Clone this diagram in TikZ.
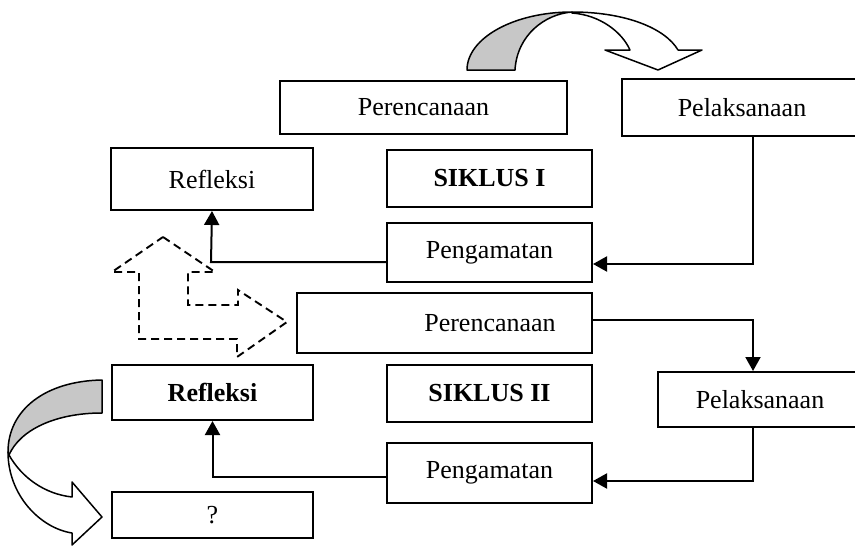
\documentclass[tikz,border=0pt]{standalone}
\usepackage{fontspec}
\setmainfont{Liberation Serif}
\usetikzlibrary{arrows.meta,calc}
\tikzset{
  boxnode/.style={draw, line width=2pt, inner sep=0pt, font=\fontsize{26}{30}\selectfont},
  txt/.style={inner sep=0pt, font=\fontsize{26}{30}\selectfont},
  arr/.style={line width=2pt, -{Triangle[length=14pt,width=15pt]}},
  dashshape/.style={line width=1.9pt, dash pattern=on 8pt off 5pt},
  bandline/.style={line width=1.5pt, line join=round}
}
\begin{document}
\begin{tikzpicture}[x=1pt,y=-1pt]
\useasboundingbox (0,0) rectangle (855,546);
\clip (0,0) rectangle (855,546);
% boxes
\node[boxnode, minimum width=287, minimum height=53] (pren1) at (423.5,107.5) {Perencanaan};
\node[boxnode, minimum width=240, minimum height=57] (pel1) at (742,107.5) {Pelaksanaan};
\node[boxnode, minimum width=202, minimum height=62] (refl1) at (212,179) {Refleksi};
\node[boxnode, minimum width=205, minimum height=57] (sik1) at (489.5,178.5) {\bfseries SIKLUS I};
\node[boxnode, minimum width=205, minimum height=59] (peng1) at (489.5,252.5) {Pengamatan};
\node[boxnode, minimum width=295, minimum height=60] (pren2) at (444.5,323) {};
\node[txt] (pren2t) at (490,323) {Perencanaan};
\node[boxnode, minimum width=204, minimum height=55] (pel2) at (760,399.5) {Pelaksanaan};
\node[boxnode, minimum width=205, minimum height=57] (sik2) at (489.5,393.5) {\bfseries SIKLUS II};
\node[boxnode, minimum width=205, minimum height=60] (peng2) at (489.5,473) {Pengamatan};
\node[boxnode, minimum width=201, minimum height=55] (refl2) at (212.5,392.5) {\bfseries Refleksi};
\node[boxnode, minimum width=201, minimum height=46] (q) at (212.5,515) {?};
% connectors
\coordinate (a1) at (753,264);
\draw[arr] (pel1.south -| a1) |- (peng1.east |- a1);
\coordinate (a2) at (211,262);
\draw[arr] (peng1.west |- a2) -- (a2) -- (refl1.south);
\coordinate (a3) at (753,320);
\draw[arr] (pren2.east |- a3) -| (pel2.north -| a3);
\coordinate (a4) at (753,481);
\draw[arr] (pel2.south -| a4) |- (peng2.east |- a4);
\coordinate (a5) at (212,477);
\draw[arr] (peng2.west |- a5) -| (refl2.south);
% dashed bent arrow
\draw[dashshape] (163,237) -- (215,272) -- (188,272) -- (188,305) -- (238,305) -- (238,290)
  -- (287,322) -- (237,357) -- (237,339) -- (139,339) -- (139,272) -- (112,272) -- cycle;
% top curved arrow
\filldraw[bandline, fill=black!22] (467,70) .. controls (467,38) and (514,12) .. (572,12)
  .. controls (545,14) and (517,35) .. (515,70) -- cycle;
\filldraw[bandline, fill=white] (572,12) .. controls (625,12) and (665,28) .. (678,50)
  -- (702,50) -- (658,70) -- (605,50) -- (630,50)
  .. controls (622,32) and (600,15) .. (572,13) -- cycle;
% bottom-left curved arrow
\filldraw[bandline, fill=black!22] (102,380) .. controls (45,381) and (8,410) .. (8,452)
  -- (9,455) .. controls (20,430) and (55,413) .. (102,413) -- cycle;
\filldraw[bandline, fill=white] (8,452) .. controls (8,495) and (40,528) .. (72,533)
  -- (72,545) -- (102,517) -- (72,482) -- (72,497)
  .. controls (45,494) and (22,478) .. (9,455) -- cycle;
\end{tikzpicture}
\end{document}
